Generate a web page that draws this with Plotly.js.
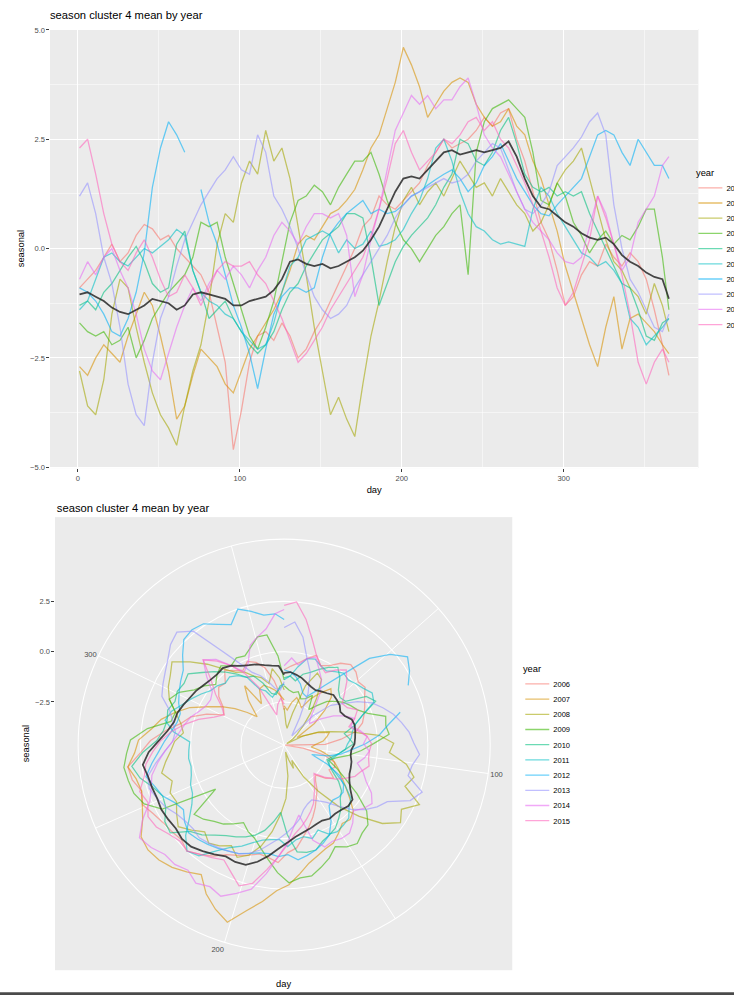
<!DOCTYPE html>
<html>
<head>
<meta charset="utf-8">
<script src="https://cdn.plot.ly/plotly-3.0.1.min.js"></script>
<style>
html,body{margin:0;padding:0;background:#fff;overflow:hidden;width:734px;height:995px}
#chart{width:918px;height:1244px;transform:scale(0.8);transform-origin:0 0}
</style>
</head>
<body>
<div id="chart"></div>
<script>
// ---- data ----
const days = [1,6,11,16,21,26,31,36,41,46,51,56,61,66,71,76,81,86,91,96,101,106,111,116,121,126,131,136,141,146,151,156,161,166,171,176,181,186,191,196,201,206,211,216,221,226,231,236,241,246,251,256,261,266,271,276,281,286,291,296,301,306,311,316,321,326,331,336,341,346,351,356,361,365];
const years = ['2006','2007','2008','2009','2010','2011','2012','2013','2014','2015'];
const yearColors = ['248,118,109','216,144,0','163,165,0','57,182,0','0,191,125','0,191,196','0,176,246','149,144,255','231,107,243','255,98,188'];

const s2006 = [-0.9,-0.7,-0.5,-0.2,0.1,-0.3,-0.1,0.3,0.55,0.45,
 0.2,0.3,0.0,-0.2,-0.4,-0.6,-1.0,-1.8,-2.6,-4.6,
 -3.7,-2.6,-2.0,-1.9,-2.1,-1.7,-2.0,-2.5,-2.3,-1.9,
 -1.6,-1.2,-0.8,-0.4,0.0,0.5,0.7,1.2,1.0,0.9,
 1.1,1.3,1.5,1.9,2.2,2.5,2.3,2.4,2.5,2.7,
 3.0,2.8,3.1,3.2,2.5,2.0,1.3,0.6,0.2,-0.5,
 -1.3,-1.1,-0.6,-0.3,-0.4,0.1,-0.2,-0.4,-0.1,-0.3,
 -0.7,-1.4,-2.2,-2.9];
const s2007 = [-2.7,-2.9,-2.5,-2.2,-2.4,-2.6,-2.0,-1.5,-1.0,-1.3,
 -2.0,-2.8,-3.9,-3.6,-2.9,-2.3,-2.5,-2.7,-3.1,-3.3,
 -2.8,-2.3,-2.0,-1.7,-1.4,-1.0,-0.5,0.1,0.3,0.2,
 0.5,0.8,0.9,1.1,1.35,1.8,2.3,2.6,3.2,3.8,
 4.6,4.2,3.7,3.0,3.3,3.6,3.8,3.9,3.8,3.3,
 3.0,2.8,2.9,3.2,2.8,2.6,2.0,1.6,1.0,0.4,
 -0.4,-1.0,-1.6,-2.2,-2.7,-1.8,-1.1,-2.3,-1.6,-1.5,
 -1.7,-1.9,-2.2,-2.4];
const s2008 = [-2.8,-3.6,-3.8,-3.0,-1.5,-0.7,-0.9,-1.8,-2.6,-3.3,
 -3.8,-4.1,-4.5,-3.6,-2.8,-2.2,-1.2,0.1,0.8,0.6,
 1.5,2.0,1.7,2.7,2.0,2.3,1.6,0.5,-0.6,-1.8,
 -2.8,-3.8,-3.4,-3.9,-4.3,-3.1,-2.0,-1.2,-0.3,0.5,
 1.1,1.4,1.0,1.3,1.5,1.2,1.6,2.0,1.7,1.4,
 1.5,1.2,1.6,1.3,1.0,0.8,0.4,0.6,1.0,1.5,
 1.8,2.0,2.3,1.6,0.9,0.2,-0.3,-0.5,-0.9,-1.1,
 -1.5,-0.8,-1.3,-1.9];
const s2009 = [-1.7,-1.9,-2.0,-1.9,-2.2,-2.1,-1.8,-2.5,-2.1,-1.6,
 -1.3,-1.0,-0.8,-0.6,-0.2,0.6,0.5,0.6,-0.2,-0.8,
 -1.4,-2.0,-2.3,-1.8,-1.2,-0.3,0.6,1.1,1.2,1.45,
 1.3,1.0,1.4,1.7,2.0,2.0,2.2,1.7,1.1,0.6,
 0.2,0.0,-0.3,0.0,0.3,0.5,0.8,1.0,-0.6,2.2,
 2.9,3.2,3.3,3.4,3.2,3.0,2.2,1.1,1.0,1.5,
 1.2,0.6,0.3,-0.1,0.2,0.4,0.1,0.3,0.2,0.5,
 0.9,0.9,-0.2,-1.4];
const s2010 = [-1.3,-1.2,-1.4,-1.0,-0.8,-0.5,-0.2,0.05,-0.3,-0.8,
 -1.0,-0.9,0.1,0.4,-0.5,-1.0,-1.6,-1.4,-1.2,-1.6,
 -1.9,-2.2,-2.4,-2.2,-1.9,-1.4,-1.0,-0.8,-0.4,-0.1,
 0.2,0.35,0.5,0.8,0.8,0.7,-0.2,-1.3,-0.8,-0.3,
 0.05,0.3,0.5,0.7,1.0,1.4,1.7,2.5,2.4,2.0,
 1.9,2.2,2.7,3.0,2.4,1.7,1.4,1.3,1.4,1.2,
 1.3,1.2,1.3,0.8,0.4,0.0,-0.4,-0.8,-0.9,-1.4,
 -2.0,-2.1,-1.7,-1.6];
const s2011 = [-1.4,-1.2,-0.7,-0.2,-0.1,-0.3,-0.4,-0.2,0.0,-0.1,
 0.05,0.2,0.44,0.3,-0.5,-1.0,-1.2,-1.3,-1.5,-1.6,
 -1.9,-2.1,-2.3,-2.2,-1.7,-1.0,-0.4,-0.2,0.2,0.3,
 0.4,0.3,-0.1,0.2,0.0,0.1,0.4,0.05,0.1,0.2,
 0.44,0.8,1.1,1.6,2.3,2.5,2.0,1.3,0.8,0.5,
 0.4,0.2,0.1,0.15,0.1,0.05,0.9,1.4,1.2,0.8,
 0.5,0.2,-0.1,-0.2,-0.4,-0.3,-0.5,-0.8,-1.6,-1.8,
 -2.2,-2.0,-1.8,-1.6];
const s2012 = [-0.9,-1.0,-1.2,-1.5,-1.9,-2.0,-1.6,-1.0,-0.1,1.4,
 2.3,2.9,2.6,2.2,null,1.35,0.6,0.1,-0.6,-1.3,
 -1.8,-2.4,-3.2,-2.3,-1.5,-1.1,-0.9,-0.9,-1.0,-0.9,
 -0.2,0.35,0.6,0.8,0.95,1.1,0.8,0.9,0.8,0.85,
 1.0,1.2,1.3,1.45,1.58,1.7,1.8,1.6,1.3,1.5,
 1.9,2.1,2.4,2.0,1.6,1.3,1.0,0.8,0.75,1.0,
 1.2,1.4,1.6,2.1,2.6,2.7,2.6,2.2,1.9,2.5,
 2.2,1.9,1.9,1.6];
const s2013 = [1.2,1.5,0.8,-0.2,-0.8,-1.8,-3.1,-3.8,-4.05,-2.6,
 -1.6,-1.1,-0.4,0.2,0.6,1.0,1.3,1.6,1.8,2.1,
 1.8,1.7,2.6,2.2,1.2,0.9,0.5,0.0,-0.6,-1.1,
 -1.4,-1.6,-1.5,-1.3,-0.9,-0.6,-0.3,0.0,0.3,0.7,
 1.0,1.2,1.3,1.4,1.5,1.6,1.5,1.55,1.7,2.0,
 2.2,2.4,2.3,1.8,1.3,0.9,0.8,1.0,1.3,1.9,
 2.1,2.3,2.55,2.9,3.1,2.6,1.0,0.0,-0.7,-1.0,
 -1.4,-1.8,-1.9,-1.5];
const s2014 = [-0.7,-0.3,-0.6,-0.2,0.0,-0.5,-0.9,-1.5,-2.3,-2.8,
 -3.0,-2.4,-1.8,-1.3,-0.9,-1.2,-0.8,-0.5,-0.7,-0.4,
 -0.6,-0.9,-0.5,-0.2,0.3,0.6,0.4,0.1,0.5,0.8,
 0.8,0.7,0.8,0.3,-1.1,-0.6,0.2,0.9,1.8,2.7,
 3.1,3.5,3.3,3.5,3.2,3.4,3.4,3.7,3.9,3.3,
 2.6,2.3,2.1,1.7,1.3,0.9,0.6,0.4,0.2,-0.1,
 -0.3,-0.35,-0.2,0.5,1.2,0.8,0.1,-0.5,-0.2,0.6,
 0.9,1.2,1.9,2.1];
const s2015 = [2.3,2.5,1.7,0.8,0.1,-0.3,-0.5,-0.1,0.2,-0.2,
 -0.7,-1.1,-1.0,-0.6,-0.9,-1.3,-0.9,-0.5,-0.3,-0.4,
 -0.4,-0.3,-0.6,-0.8,-1.2,-1.6,-2.1,-2.6,-2.4,-2.1,
 -1.8,-1.4,-1.1,-0.8,-0.5,-0.2,0.3,0.9,1.6,2.4,
 2.7,2.2,1.8,2.0,2.2,2.5,2.4,2.6,2.9,3.0,
 2.7,2.9,2.5,2.3,1.9,1.5,1.0,0.4,-0.2,-0.9,
 -1.3,-1.0,-0.4,0.2,1.2,0.7,0.1,-0.6,-1.5,-2.6,
 -3.1,-2.6,-2.3,-2.6];
const meanSeasonal = [-1.05,-1.0,-1.1,-1.2,-1.35,-1.45,-1.5,-1.4,-1.3,-1.15,
 -1.2,-1.25,-1.4,-1.3,-1.05,-1.0,-1.05,-1.1,-1.15,-1.3,
 -1.3,-1.2,-1.15,-1.1,-0.95,-0.7,-0.3,-0.25,-0.35,-0.4,
 -0.35,-0.45,-0.4,-0.3,-0.2,-0.05,0.2,0.5,0.9,1.3,
 1.6,1.65,1.6,1.8,2.0,2.2,2.25,2.15,2.2,2.25,
 2.2,2.25,2.3,2.45,2.1,1.6,1.2,0.95,0.9,0.75,
 0.6,0.5,0.35,0.25,0.2,0.25,0.1,-0.15,-0.3,-0.4,
 -0.55,-0.65,-0.7,-1.15];
const dayTicks = [50,100,150,200,250,300,350];
const dayTickLabels = ['','100','','200','','300',''];
const seasonalTicks = [-2.5,0,2.5];

const series = [s2006,s2007,s2008,s2009,s2010,s2011,s2012,s2013,s2014,s2015];

// ---- chart ----
const W = 734, H = 995;        // final picture size (px)
const px = v => v / W;          // x in paper fraction
const py = v => 1 - v / H;      // y in paper fraction (from top)
const dayToDeg = d => (d - 1) / 364 * 360;
const thetas = days.map(dayToDeg);

const FONT = 'Liberation Sans, Arial, Helvetica, sans-serif';
const traces = [];
series.forEach((s, i) => {
  const col = 'rgba(' + yearColors[i] + ',0.58)';
  traces.push({type:'scatter', mode:'lines', x:days, y:s, name:years[i],
    line:{color:col, width:1.6}, legend:'legend', hoverinfo:'skip', connectgaps:false});
});
traces.push({type:'scatter', mode:'lines', x:days, y:meanSeasonal, name:'mean',
  line:{color:'rgba(40,40,40,0.85)', width:2.2}, showlegend:false, hoverinfo:'skip'});
series.forEach((s, i) => {
  const col = 'rgba(' + yearColors[i] + ',0.58)';
  traces.push({type:'scatterpolar', mode:'lines', r:s, theta:thetas, subplot:'polar', name:years[i],
    line:{color:col, width:1.6}, legend:'legend2', hoverinfo:'skip', connectgaps:false});
});
traces.push({type:'scatterpolar', mode:'lines', r:meanSeasonal, theta:thetas, subplot:'polar', name:'mean',
  line:{color:'rgba(40,40,40,0.85)', width:2.2}, showlegend:false, hoverinfo:'skip'});
traces.push({type:'scatter', x:[], y:[], xaxis:'x2', yaxis:'y2', showlegend:false, hoverinfo:'skip'});

const tickFont = {size:9.4, color:'#4D4D4D', family:FONT};
const axTitleFont = {size:11.7, color:'#000', family:FONT};

const legendCommon = {
  xanchor:'left', yanchor:'top', bgcolor:'rgba(0,0,0,0)', borderwidth:0,
  font:{size:9.4, color:'#000', family:FONT}, tracegroupgap:0,
  title:{text:'year', font:{size:11.7, color:'#000', family:FONT}}
};

const centerR = -4.65, outerR = 5.6;
const layout = {
  width:918, height:1244,
  margin:{l:0, r:0, t:0, b:0, autoexpand:false},
  paper_bgcolor:'#ffffff', plot_bgcolor:'#EBEBEB',
  font:{family:FONT, color:'#000'},
  title:{text:'season cluster 4 mean by year', xref:'paper', yref:'paper', x:px(50), xanchor:'left',
    y:py(15), yanchor:'middle', font:{size:14, color:'#000', family:FONT}, automargin:false},
  xaxis:{domain:[px(50), px(698)], range:[-17.2, 383.2], anchor:'y', tick0:0, dtick:100,
    ticks:'outside', ticklen:3.5, tickwidth:1.2, tickcolor:'#333', tickfont:tickFont,
    showgrid:true, gridcolor:'#fff', gridwidth:1.3, zeroline:false, showline:false,
    minor:{tick0:0, dtick:50, showgrid:true, gridcolor:'#fff', gridwidth:0.6, ticks:''},
    title:{text:'day', font:axTitleFont, standoff:6}, automargin:false},
  yaxis:{domain:[py(468), py(29)], range:[-5.02, 5.02], anchor:'x', tick0:0, dtick:2.5, tickformat:'.1f',
    ticks:'outside', ticklen:3.5, tickwidth:1.2, tickcolor:'#333', tickfont:tickFont,
    showgrid:true, gridcolor:'#fff', gridwidth:1.3, zeroline:false, showline:false,
    minor:{tick0:0, dtick:1.25, showgrid:true, gridcolor:'#fff', gridwidth:0.6, ticks:''},
    title:{text:'seasonal', font:axTitleFont, standoff:4}, automargin:false},
  xaxis2:{domain:[px(55), px(512)], range:[0,1], anchor:'y2', showgrid:false, zeroline:false,
    showticklabels:false, ticks:'', showline:false,
    title:{text:'day', font:axTitleFont, standoff:12}, automargin:false},
  yaxis2:{domain:[py(970), py(517)], range:[centerR - 225/20.1, centerR + 228/20.1], anchor:'x2',
    tickvals:seasonalTicks, tickformat:'.1f', ticks:'outside', ticklen:3.5, tickwidth:1.2, tickcolor:'#333',
    tickfont:tickFont, showgrid:false, zeroline:false, showline:false,
    title:{text:'seasonal', font:axTitleFont, standoff:4}, automargin:false},
  polar:{
    domain:{x:[px(78), px(490)], y:[py(951), py(539)]},
    bgcolor:'rgba(0,0,0,0)',
    angularaxis:{rotation:90, direction:'clockwise', thetaunit:'degrees',
      tickvals:dayTicks.map(dayToDeg), ticktext:dayTickLabels, ticks:'',
      showgrid:true, gridcolor:'#fff', gridwidth:1.2,
      showline:true, linecolor:'#fff', linewidth:1.3, tickfont:tickFont},
    radialaxis:{range:[centerR, outerR], tickvals:seasonalTicks, showticklabels:false, ticks:'',
      showline:false, showgrid:true, gridcolor:'#fff', gridwidth:1.3}
  },
  legend:Object.assign({}, legendCommon, {x:px(694), y:py(164)}),
  legend2:Object.assign({}, legendCommon, {x:px(521), y:py(660)}),
  annotations:[{text:'season cluster 4 mean by year', xref:'paper', yref:'paper', x:px(55), y:py(508),
    xanchor:'left', yanchor:'middle', showarrow:false, font:{size:14, color:'#000', family:FONT}}],
  shapes:[{type:'rect', xref:'paper', yref:'paper', x0:0, x1:1, y0:0, y1:3/H,
    fillcolor:'#4a4a4a', line:{width:0}, layer:'above'}]
};

Plotly.newPlot('chart', traces, layout, {staticPlot:true, displayModeBar:false});
</script>
</body>
</html>
